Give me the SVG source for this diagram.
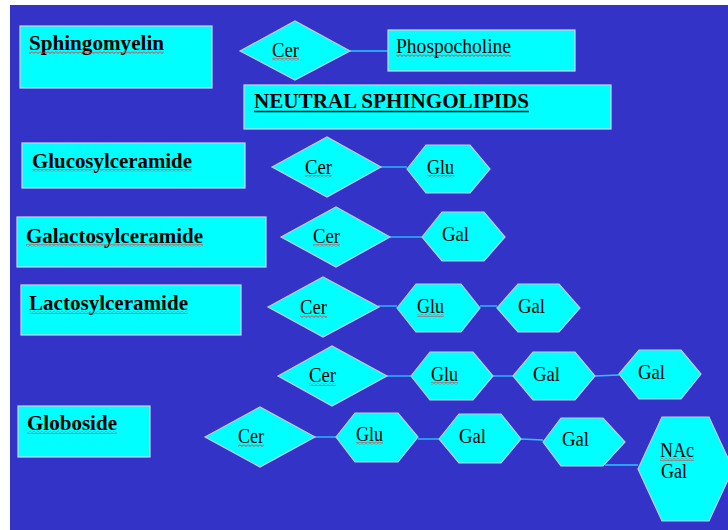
<svg xmlns="http://www.w3.org/2000/svg" width="728" height="530" viewBox="0 0 728 530">
<defs>
<pattern id="sq" patternUnits="userSpaceOnUse" width="4" height="3">
<path d="M0,0.5 L2,2.5 L4,0.5" fill="none" stroke="#ff2a2a" stroke-width="1"/>
</pattern>
<style>
.box{fill:#00ffff;stroke:#d0d0ff;stroke-width:1.2}
.sh{fill:#00ffff;stroke:#c8c8f4;stroke-width:1.2}
.b{font-family:"Liberation Serif","Times New Roman",serif;font-weight:bold;font-size:21px;fill:#000}
.r{font-family:"Liberation Serif","Times New Roman",serif;font-size:20px;fill:#000}
.c{stroke:#22ccff;stroke-width:1.3;fill:none}
.w{fill:url(#sq)}
</style>
</defs>
<rect x="0" y="0" width="728" height="530" fill="#ffffff"/>
<rect x="10" y="5" width="718" height="525" fill="#3333c8"/>

<g id="connectors">
<line class="c" x1="350" y1="51" x2="388" y2="51"/>
<line class="c" x1="381" y1="167" x2="407" y2="167"/>
<line class="c" x1="390" y1="237" x2="422" y2="237"/>
<line class="c" x1="378" y1="306" x2="397" y2="306"/>
<line class="c" x1="480" y1="306" x2="497" y2="306"/>
<line class="c" x1="387" y1="376" x2="411" y2="376"/>
<line class="c" x1="493" y1="376" x2="513" y2="376"/>
<line class="c" x1="595" y1="376" x2="619" y2="375"/>
<line class="c" x1="315" y1="437" x2="336" y2="437"/>
<line class="c" x1="418" y1="439" x2="439" y2="439"/>
<line class="c" x1="521" y1="439" x2="543" y2="440"/>
<line class="c" x1="605" y1="465" x2="638" y2="465"/>
</g>

<g id="sphingomyelin">
<rect class="box" x="20" y="26" width="192" height="62"/>
<text class="b" x="29" y="50" textLength="135" lengthAdjust="spacingAndGlyphs">Sphingomyelin</text>
<rect class="w" x="29" y="51" width="135" height="3"/>
</g>
<g id="cer1">
<polygon class="sh" points="240,51 295,21 350,51 295,80"/>
<text class="r" x="272" y="57" textLength="27" lengthAdjust="spacingAndGlyphs">Cer</text>
<rect class="w" x="272" y="58" width="27" height="3"/>
</g>
<g id="phospocholine">
<rect class="box" x="388" y="30" width="187" height="41"/>
<text class="r" x="396" y="53" textLength="115" lengthAdjust="spacingAndGlyphs">Phospocholine</text>
<rect class="w" x="396" y="54" width="115" height="3"/>
</g>
<g id="neutral">
<rect class="box" x="244" y="85" width="367" height="44"/>
<text class="b" x="254" y="108" textLength="275" lengthAdjust="spacingAndGlyphs">NEUTRAL SPHINGOLIPIDS</text>
<line x1="254" y1="111.5" x2="529" y2="111.5" stroke="#000" stroke-width="1.5"/>
</g>

<g id="glucosylceramide">
<rect class="box" x="22" y="143" width="223" height="45"/>
<text class="b" x="32" y="168" textLength="160" lengthAdjust="spacingAndGlyphs">Glucosylceramide</text>
<rect class="w" x="32" y="169" width="160" height="3"/>
</g>
<g id="cer2">
<polygon class="sh" points="272,167 327,137 381,167 327,197"/>
<text class="r" x="305" y="174" textLength="27" lengthAdjust="spacingAndGlyphs">Cer</text>
<rect class="w" x="305" y="175" width="27" height="3"/>
</g>
<g id="glu2">
<polygon class="sh" points="407,169 426,145 470,145 490,169 470,193 426,193"/>
<text class="r" x="427" y="174" textLength="27" lengthAdjust="spacingAndGlyphs">Glu</text>
<rect class="w" x="427" y="175" width="27" height="3"/>
</g>

<g id="galactosylceramide">
<rect class="box" x="17" y="217" width="249" height="50"/>
<text class="b" x="26" y="243" textLength="177" lengthAdjust="spacingAndGlyphs">Galactosylceramide</text>
<rect class="w" x="26" y="244" width="177" height="3"/>
</g>
<g id="cer3">
<polygon class="sh" points="281,237 336,207 390,237 336,267"/>
<text class="r" x="313" y="243" textLength="27" lengthAdjust="spacingAndGlyphs">Cer</text>
<rect class="w" x="313" y="244" width="27" height="3"/>
</g>
<g id="gal3">
<polygon class="sh" points="422,237 442,212 484,212 505,237 484,261 442,261"/>
<text class="r" x="442" y="241" textLength="27" lengthAdjust="spacingAndGlyphs">Gal</text>
</g>

<g id="lactosylceramide">
<rect class="box" x="21" y="285" width="220" height="50"/>
<text class="b" x="29" y="310" textLength="159" lengthAdjust="spacingAndGlyphs">Lactosylceramide</text>
<rect class="w" x="29" y="311" width="159" height="3"/>
</g>
<g id="cer4">
<polygon class="sh" points="268,307 323,277 379,307 323,337"/>
<text class="r" x="300" y="314" textLength="27" lengthAdjust="spacingAndGlyphs">Cer</text>
<rect class="w" x="300" y="315" width="27" height="3"/>
</g>
<g id="glu4">
<polygon class="sh" points="397,308 416,284 461,284 480,308 461,332 416,332"/>
<text class="r" x="417" y="313" textLength="27" lengthAdjust="spacingAndGlyphs">Glu</text>
<rect class="w" x="417" y="314" width="27" height="3"/>
</g>
<g id="gal4">
<polygon class="sh" points="497,308 518,284 559,284 580,308 559,332 518,332"/>
<text class="r" x="518" y="313" textLength="27" lengthAdjust="spacingAndGlyphs">Gal</text>
</g>

<g id="cer5">
<polygon class="sh" points="278,376 332,346 387,376 332,406"/>
<text class="r" x="309" y="382" textLength="27" lengthAdjust="spacingAndGlyphs">Cer</text>
<rect class="w" x="309" y="383" width="27" height="3"/>
</g>
<g id="glu5">
<polygon class="sh" points="411,376 430,352 473,352 493,376 473,400 430,400"/>
<text class="r" x="431" y="381" textLength="27" lengthAdjust="spacingAndGlyphs">Glu</text>
<rect class="w" x="431" y="382" width="27" height="3"/>
</g>
<g id="gal5a">
<polygon class="sh" points="513,376 533,352 575,352 595,376 575,400 533,400"/>
<text class="r" x="533" y="381" textLength="27" lengthAdjust="spacingAndGlyphs">Gal</text>
</g>
<g id="gal5b">
<polygon class="sh" points="619,374 639,350 681,350 701,374 681,399 639,399"/>
<text class="r" x="638" y="379" textLength="27" lengthAdjust="spacingAndGlyphs">Gal</text>
</g>

<g id="globoside">
<rect class="box" x="18" y="406" width="132" height="51"/>
<text class="b" x="27" y="430" textLength="90" lengthAdjust="spacingAndGlyphs">Globoside</text>
<rect class="w" x="27" y="431" width="90" height="3"/>
</g>
<g id="cer6">
<polygon class="sh" points="205,437 260,407 315,437 260,467"/>
<text class="r" x="238" y="443" textLength="26" lengthAdjust="spacingAndGlyphs">Cer</text>
<rect class="w" x="238" y="444" width="26" height="3"/>
</g>
<g id="glu6">
<polygon class="sh" points="336,437 355,413 398,413 418,437 398,462 355,462"/>
<text class="r" x="356" y="441" textLength="27" lengthAdjust="spacingAndGlyphs">Glu</text>
<rect class="w" x="356" y="442" width="27" height="3"/>
</g>
<g id="gal6a">
<polygon class="sh" points="439,439 459,414 501,414 521,439 501,463 459,463"/>
<text class="r" x="459" y="443" textLength="27" lengthAdjust="spacingAndGlyphs">Gal</text>
</g>
<g id="gal6b">
<polygon class="sh" points="543,442 561,418 603,418 625,442 603,466 561,466"/>
<text class="r" x="562" y="446" textLength="27" lengthAdjust="spacingAndGlyphs">Gal</text>
</g>
<g id="nacgal">
<polygon class="sh" points="638,469 662,417 709,417 733,469 709,521 662,521"/>
<text class="r" x="660" y="457" textLength="34" lengthAdjust="spacingAndGlyphs">NAc</text>
<rect class="w" x="660" y="458" width="34" height="3"/>
<text class="r" x="661" y="478" textLength="26" lengthAdjust="spacingAndGlyphs">Gal</text>
</g>
</svg>
